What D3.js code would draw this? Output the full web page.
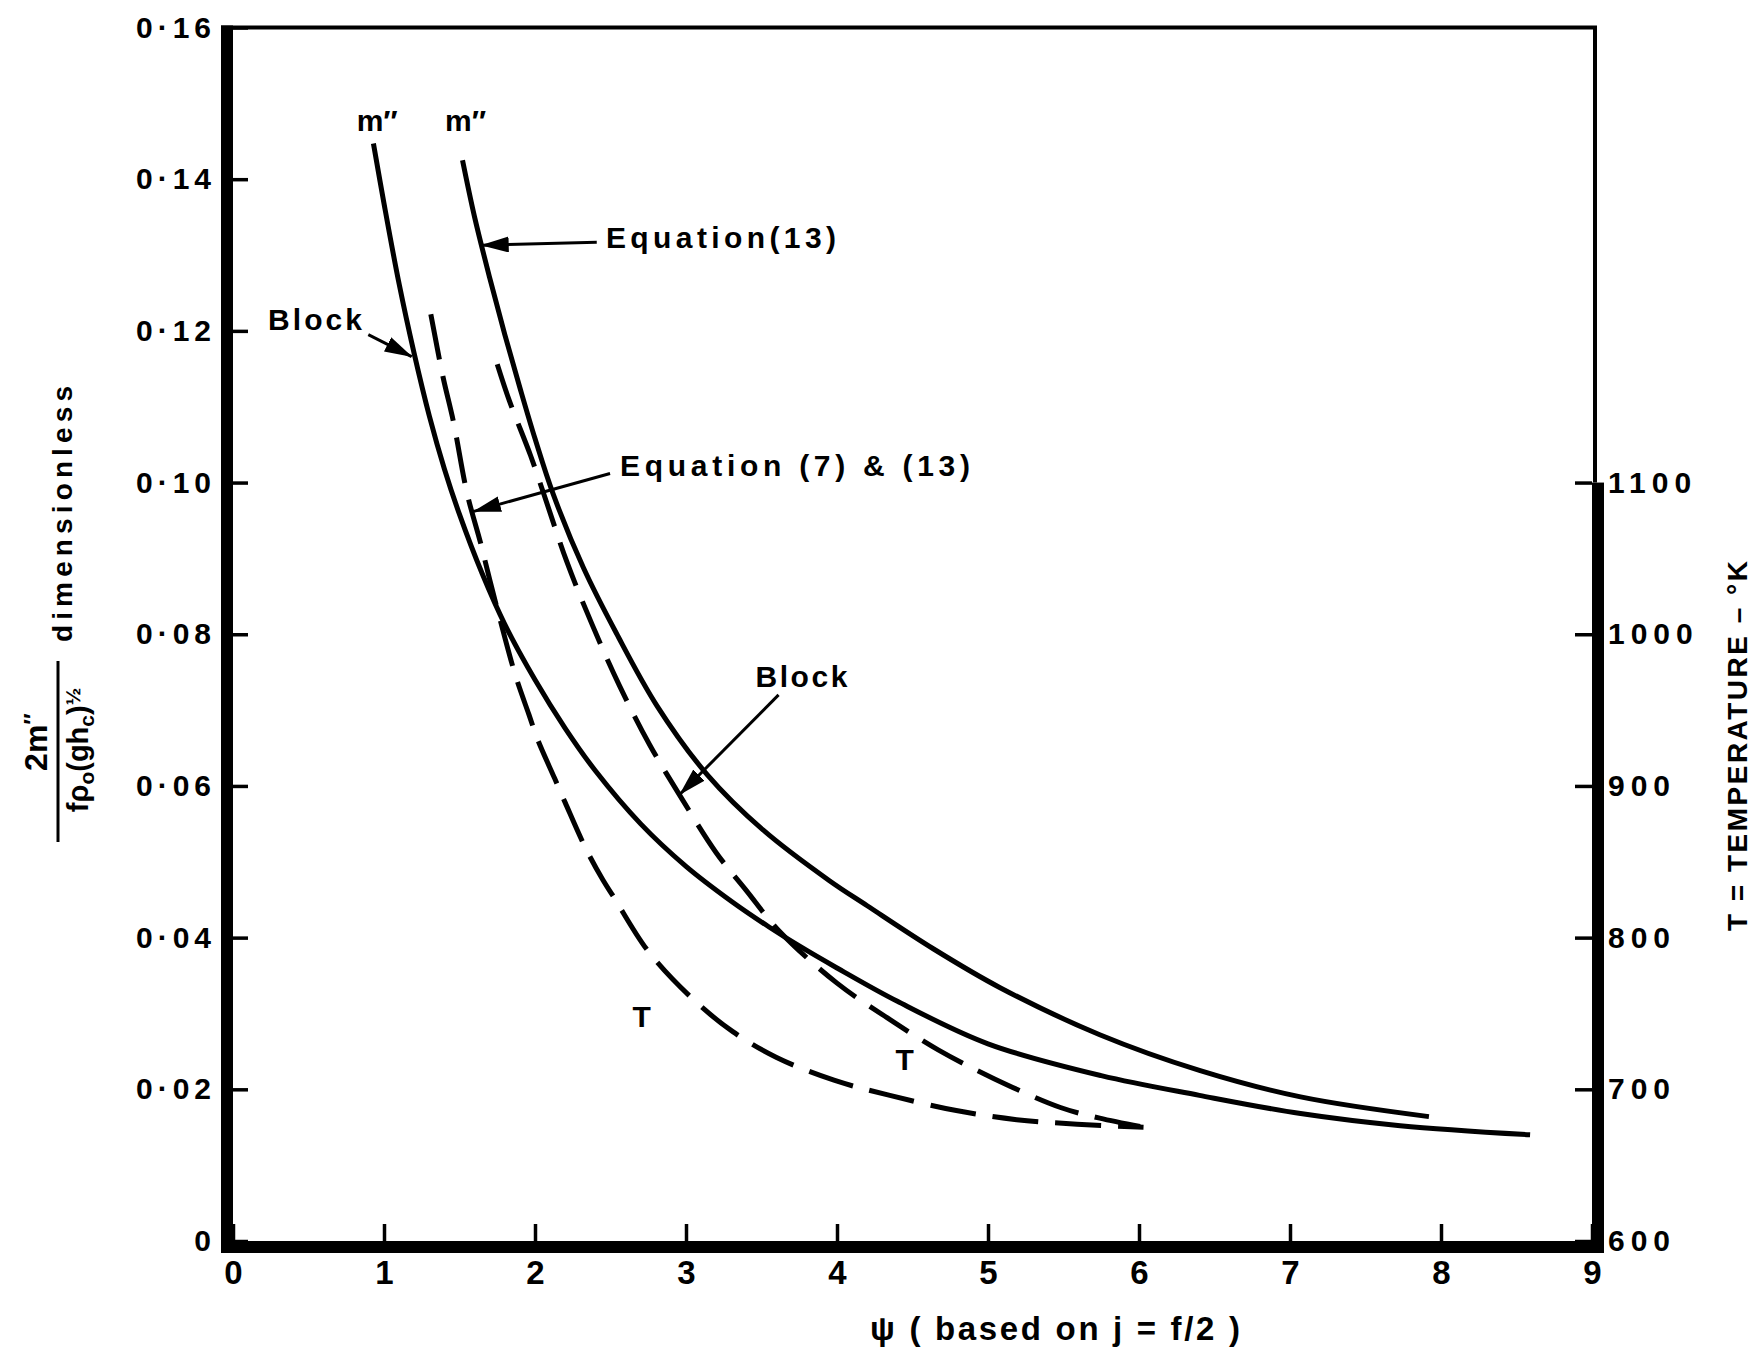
<!DOCTYPE html>
<html lang="en">
<head>
<meta charset="UTF-8">
<title>m'' and T against psi</title>
<style>
  body { margin: 0; background: #fff; }
  svg { display: block; }
  text { font-family: "Liberation Sans", Arial, sans-serif; fill: #000; font-weight: bold; }
</style>
</head>
<body>
<svg id="chart" width="1759" height="1352"></svg>
<script src="https://d3js.org/d3.v7.min.js"></script>
<script>
// ---- data ----
// solid curves: dimensionless mass flux (left axis)
const blockPsi = [0.93, 1.00, 1.10, 1.20, 1.30, 1.40, 1.50, 1.65, 1.80, 2.00, 2.20, 2.40, 2.70, 3.00, 3.30, 3.55, 3.75, 4.00, 4.40, 5.00, 5.75, 6.40, 7.07, 7.73, 8.59];
const blockM   = [0.1447, 0.1368, 0.1262, 0.1170, 0.1088, 0.1018, 0.0958, 0.0880, 0.0813, 0.0740, 0.0676, 0.0620, 0.0550, 0.0494, 0.0448, 0.0414, 0.0389, 0.0360, 0.0316, 0.0260, 0.0218, 0.0192, 0.0168, 0.0152, 0.0140];

const eq13Psi = [1.52, 1.60, 1.70, 1.80, 1.90, 2.00, 2.12, 2.32, 2.54, 2.81, 3.14, 3.51, 3.95, 4.20, 4.64, 5.08, 5.74, 6.40, 7.07, 7.92];
const eq13M   = [0.1425, 0.1350, 0.1270, 0.1195, 0.1125, 0.1058, 0.0985, 0.0888, 0.0801, 0.0705, 0.0615, 0.0542, 0.0475, 0.0442, 0.0385, 0.0334, 0.0272, 0.0225, 0.0190, 0.0164];

// dashed curves: temperature in K (right axis)
const tEq713Psi = [1.31, 1.39, 1.46, 1.55, 1.64, 1.70, 1.76, 1.87, 1.96, 2.02, 2.13, 2.20, 2.34, 2.45, 2.52, 2.75, 3.04, 3.31, 3.60, 3.98, 4.35, 4.79, 5.19, 5.59, 6.03];
const tEq713K   = [1211, 1170, 1140, 1093, 1060, 1036, 1013, 973, 947, 930, 905, 889, 858, 838, 827, 791, 760, 738, 721, 706, 696, 686, 680, 677, 675];

const tBlockPsi = [1.75, 1.83, 1.97, 2.06, 2.21, 2.38, 2.56, 2.76, 2.97, 3.20, 3.40, 3.62, 4.00, 4.32, 4.67, 5.04, 5.48, 5.74, 6.03];
const tBlockK   = [1178, 1154, 1118, 1092, 1048, 1006, 966, 927, 892, 856, 831, 804, 770, 748, 726, 707, 688, 681, 675];

// ticks
const xTicks = [0, 1, 2, 3, 4, 5, 6, 7, 8, 9];
const xTickLabels = ["0", "1", "2", "3", "4", "5", "6", "7", "8", "9"];
const yTicks = [0, 0.02, 0.04, 0.06, 0.08, 0.10, 0.12, 0.14, 0.16];
const yTickLabels = ["0", "0·02", "0·04", "0·06", "0·08", "0·10", "0·12", "0·14", "0·16"];
const tTicks = [600, 700, 800, 900, 1000, 1100];
const tTickLabels = ["600", "700", "800", "900", "1000", "1100"];

// ---- scales ----
const svg = d3.select("#chart");
const x = d3.scaleLinear().domain([0, 9]).range([233, 1592]);
const y = d3.scaleLinear().domain([0, 0.16]).range([1241, 27.5]);
const t = d3.scaleLinear().domain([600, 1400]).range([1241, 27.5]);

// arrow head
svg.append("defs").append("marker")
  .attr("id", "head")
  .attr("viewBox", "0 0 28 16")
  .attr("refX", 27).attr("refY", 8)
  .attr("markerWidth", 28).attr("markerHeight", 16)
  .attr("markerUnits", "userSpaceOnUse")
  .attr("orient", "auto")
  .append("path").attr("d", "M0,0L28,8L0,16Z").attr("fill", "#000");

// ---- frame ----
const frame = svg.append("g");
frame.append("rect")  // left axis, heavy
  .attr("x", x(0) - 12).attr("y", y(0.16) - 2)
  .attr("width", 12).attr("height", y(0) + 12 - y(0.16) + 2);
frame.append("rect")  // bottom axis, heavy
  .attr("x", x(0) - 12).attr("y", y(0))
  .attr("width", x(9) - x(0) + 24).attr("height", 12);
frame.append("rect")  // right axis, heavy only over the labelled range
  .attr("x", x(9)).attr("y", t(1100))
  .attr("width", 12).attr("height", y(0) + 12 - t(1100));
frame.append("line")
  .attr("x1", x(9) + 3).attr("x2", x(9) + 3)
  .attr("y1", y(0.16)).attr("y2", t(1100))
  .attr("stroke", "#000").attr("stroke-width", 4);
frame.append("line")
  .attr("x1", x(0) - 12).attr("x2", x(9) + 5)
  .attr("y1", y(0.16)).attr("y2", y(0.16))
  .attr("stroke", "#000").attr("stroke-width", 4);

// ---- axes ----
function styleAxis(g, size, spacing) {
  g.select(".domain").remove();
  g.selectAll(".tick line").attr("stroke", "#000").attr("stroke-width", 3.5);
  g.selectAll(".tick text")
    .attr("fill", "#000")
    .style("font-size", size + "px")
    .style("letter-spacing", spacing + "px");
}

svg.append("g")
  .attr("transform", `translate(${x(0)},0)`)
  .call(d3.axisLeft(y).tickValues(yTicks)
    .tickFormat(d => yTickLabels[yTicks.indexOf(d)])
    .tickSizeInner(-15).tickSizeOuter(0).tickPadding(17))
  .call(g => styleAxis(g, 30, 5));

svg.append("g")
  .attr("transform", `translate(0,${y(0)})`)
  .call(d3.axisBottom(x).tickValues(xTicks)
    .tickFormat(d => xTickLabels[xTicks.indexOf(d)])
    .tickSizeInner(-17).tickSizeOuter(0).tickPadding(20))
  .call(g => styleAxis(g, 33, 0));

svg.append("g")
  .attr("transform", `translate(${x(9)},0)`)
  .call(d3.axisRight(t).tickValues(tTicks)
    .tickFormat(d => tTickLabels[tTicks.indexOf(d)])
    .tickSizeInner(-17).tickSizeOuter(0).tickPadding(16))
  .call(g => styleAxis(g, 30, 6));

// ---- curves ----
const line = d3.line().curve(d3.curveCatmullRom.alpha(0.5));
const curves = [
  { psi: blockPsi,  val: blockM,  scale: y, dash: null },
  { psi: eq13Psi,   val: eq13M,   scale: y, dash: null },
  { psi: tEq713Psi, val: tEq713K, scale: t, dash: "46 17" },
  { psi: tBlockPsi, val: tBlockK, scale: t, dash: "46 17" }
];
svg.append("g").selectAll("path")
  .data(curves)
  .join("path")
  .attr("d", c => line(c.psi.map((p, i) => [x(p), c.scale(c.val[i])])))
  .attr("fill", "none")
  .attr("stroke", "#000")
  .attr("stroke-width", 5)
  .attr("stroke-dasharray", c => c.dash);

// ---- annotations ----
const arrows = [
  { from: [2.409, 0.1317], to: [1.647, 0.1313] },
  { from: [0.896, 0.1195], to: [1.183, 0.1166] },
  { from: [2.497, 0.1012], to: [1.595, 0.0962] },
  { from: [3.613, 0.0720], to: [2.960, 0.0589] }
];
svg.append("g").selectAll("line")
  .data(arrows)
  .join("line")
  .attr("x1", d => x(d.from[0])).attr("y1", d => y(d.from[1]))
  .attr("x2", d => x(d.to[0])).attr("y2", d => y(d.to[1]))
  .attr("stroke", "#000").attr("stroke-width", 3)
  .attr("marker-end", "url(#head)");

const notes = [
  { text: "Equation(13)",        psi: 2.47,  m: 0.1309, len: 230, anchor: "start" },
  { text: "Equation (7) & (13)", psi: 2.563, m: 0.1009, len: 350, anchor: "start" },
  { text: "Block",               psi: 0.232, m: 0.1201, len: 94,  anchor: "start" },
  { text: "Block",               psi: 3.46,  m: 0.0730, len: 92,  anchor: "start" },
  { text: "m″",                  psi: 0.819, m: 0.1463, len: null, anchor: "start" },
  { text: "m″",                  psi: 1.404, m: 0.1463, len: null, anchor: "start" },
  { text: "T",                   psi: 2.707, m: 0.0282, len: null, anchor: "middle" },
  { text: "T",                   psi: 4.448, m: 0.0225, len: null, anchor: "middle" }
];
svg.append("g").selectAll("text")
  .data(notes)
  .join("text")
  .attr("x", d => x(d.psi))
  .attr("y", d => y(d.m))
  .attr("text-anchor", d => d.anchor)
  .attr("textLength", d => d.len)
  .attr("lengthAdjust", "spacing")
  .style("font-size", "30px")
  .text(d => d.text);

// ---- axis titles ----
svg.append("text")
  .attr("x", 870).attr("y", 1340)
  .attr("textLength", 370).attr("lengthAdjust", "spacing")
  .style("font-size", "33px")
  .text("ψ ( based on j = f/2 )");

svg.append("text")
  .attr("transform", "translate(1747,746) rotate(-90)")
  .attr("text-anchor", "middle")
  .attr("textLength", 370).attr("lengthAdjust", "spacing")
  .style("font-size", "28px")
  .text("T = TEMPERATURE – °K");

const yTitle = svg.append("g").attr("transform", "translate(58,752) rotate(-90)");
yTitle.append("line")
  .attr("x1", -90).attr("x2", 91).attr("y1", 0).attr("y2", 0)
  .attr("stroke", "#000").attr("stroke-width", 3);
const num = yTitle.append("text")
  .attr("x", 10).attr("y", -11)
  .attr("text-anchor", "middle")
  .style("font-size", "32px");
num.append("tspan").text("2m");
num.append("tspan").attr("dy", -6).style("font-size", "24px").text("″");
const den = yTitle.append("text")
  .attr("x", 2).attr("y", 30)
  .attr("text-anchor", "middle")
  .style("font-size", "29px");
den.append("tspan").text("fρ");
den.append("tspan").attr("dy", 6).style("font-size", "21px").text("o");
den.append("tspan").attr("dy", -6).text("(gh");
den.append("tspan").attr("dy", 6).style("font-size", "21px").text("c");
den.append("tspan").attr("dy", -6).text(")");
den.append("tspan").attr("dy", -8).style("font-size", "21px").text("½");
yTitle.append("text")
  .attr("x", 110).attr("y", 14)
  .attr("textLength", 256).attr("lengthAdjust", "spacing")
  .style("font-size", "28px")
  .text("dimensionless");
</script>
</body>
</html>
